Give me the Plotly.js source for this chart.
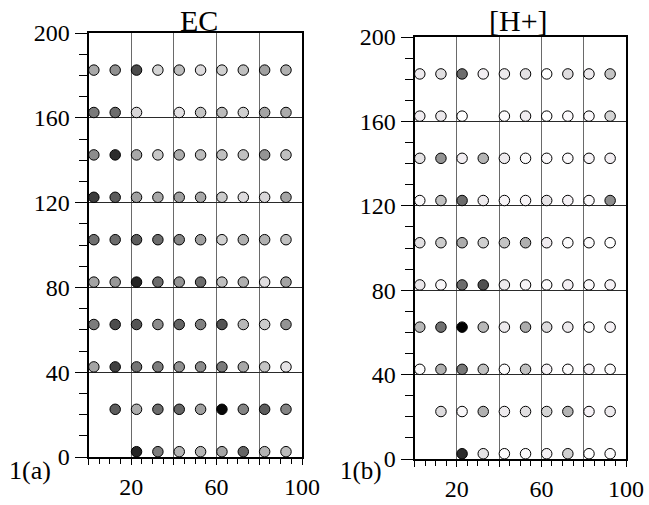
<!DOCTYPE html>
<html>
<head>
<meta charset="utf-8">
<script src="https://cdn.plot.ly/plotly-3.0.1.min.js"></script>
<style>
  html, body { margin: 0; padding: 0; background: #fff; }
  #chart { width: 649px; height: 505px; }
</style>
</head>
<body>
<div id="chart"></div>
<script>
// Column (x) and row (y) positions of the sampling points
const xPositions = [2.5, 12.5, 22.5, 32.5, 42.5, 52.5, 62.5, 72.5, 82.5, 92.5];
const yPositions = [182.5, 162.5, 142.5, 122.5, 102.5, 82.5, 62.5, 42.5, 22.5, 2.5];

// Gray level (0 = black, 255 = white) of each point, rows listed top to bottom; null = no sample
const ecLevels = [
  [168, 144, 75, 212, 188, 220, 208, 192, 160, 176],
  [122, 108, 216, null, 226, 196, 188, 208, 164, 172],
  [140, 44, 168, 200, 172, 188, 192, 192, 148, 192],
  [60, 92, 160, 168, 160, 168, 204, 220, 216, 164],
  [112, 108, 92, 108, 132, 160, 208, 176, 176, 192],
  [164, 152, 36, 108, 148, 108, 192, 176, 224, 164],
  [124, 76, 84, 140, 100, 128, 84, 184, 204, 148],
  [164, 64, 116, 124, 144, 140, 122, 168, 196, 228],
  [null, 92, 172, 108, 100, 160, 8, 132, 92, 132],
  [null, null, 36, 124, 180, 180, 164, 100, 180, 188]
];
const hLevels = [
  [236, 224, 108, 240, 236, 228, 255, 222, 236, 196],
  [238, 234, 255, null, 250, 238, 255, 250, 250, 212],
  [228, 148, 240, 180, 236, 252, 250, 250, 246, 240],
  [248, 192, 108, 236, 246, 246, 230, 244, 250, 140],
  [224, 204, 172, 208, 196, 176, 238, 252, 252, 255],
  [232, 248, 108, 80, 236, 246, 252, 242, 250, 244],
  [184, 112, 0, 184, 236, 172, 220, 236, 252, 244],
  [252, 176, 120, 192, 252, 192, 244, 252, 244, 252],
  [null, 220, 248, 176, 236, 224, 212, 180, 244, 236],
  [null, null, 44, 228, 252, 252, 244, 208, 255, 252]
];

const panelTitles = ['EC', '[H+]'];
const panelLabels = ['1(a)', '1(b)'];
const xTickVals = [0, 20, 40, 60, 80, 100];
const xTickText = ['', '20', '', '60', '', '100'];
const yTickVals = [0, 40, 80, 120, 160, 200];
const yTickText = ['0', '40', '80', '120', '160', '200'];

const grayScale = [[0, 'rgb(0,0,0)'], [0.8, 'rgb(204,204,204)'], [0.95, 'rgb(244,240,244)'], [1, 'rgb(255,255,255)']];

function buildTrace(levels, xa, ya) {
  const x = [], y = [], c = [];
  levels.forEach((row, i) => {
    row.forEach((v, j) => {
      if (v !== null) { x.push(xPositions[j]); y.push(yPositions[i]); c.push(v); }
    });
  });
  return {
    type: 'scatter', mode: 'markers', x: x, y: y, xaxis: xa, yaxis: ya,
    marker: { size: 10.5, color: c, cmin: 0, cmax: 255, colorscale: grayScale, showscale: false,
              line: { color: '#000', width: 1 } },
    hoverinfo: 'x+y', showlegend: false
  };
}

const serif = 'Liberation Serif';
const tickFont = { family: serif, size: 24, color: '#000' };

function xAxis(domain, anchor) {
  return {
    domain: domain, anchor: anchor, range: [0, 100], tickmode: 'array',
    tickvals: xTickVals, ticktext: xTickText, ticks: 'outside', ticklen: 6, tickwidth: 1,
    tickcolor: '#000', showgrid: true, gridcolor: '#6a6a6a', gridwidth: 1, zeroline: false,
    showline: true, linecolor: '#000', linewidth: 2, mirror: true, tickfont: tickFont,
    ticklabelstandoff: 1,
    minor: { tickmode: 'linear', tick0: 0, dtick: 5, ticks: 'outside', ticklen: 5, tickcolor: '#000', showgrid: false },
    fixedrange: true
  };
}
function yAxis(domain, anchor) {
  return {
    domain: domain, anchor: anchor, range: [0, 200], tickmode: 'array',
    tickvals: yTickVals, ticktext: yTickText, ticks: 'outside', ticklen: 12, tickwidth: 1,
    tickcolor: '#000', showgrid: true, gridcolor: '#2a2a2a', gridwidth: 1, zeroline: false,
    showline: true, linecolor: '#000', linewidth: 2, mirror: true, tickfont: tickFont,
    ticklabelstandoff: 0,
    minor: { tickmode: 'linear', tick0: 0, dtick: 10, ticks: 'outside', ticklen: 8, tickcolor: '#000', showgrid: false },
    fixedrange: true
  };
}

const data = [buildTrace(ecLevels, 'x', 'y'), buildTrace(hLevels, 'x2', 'y2')];

const layout = {
  width: 649, height: 505,
  margin: { l: 0, r: 0, t: 0, b: 0, pad: 0 },
  paper_bgcolor: '#fff', plot_bgcolor: '#fff',
  font: { family: serif, color: '#000' },
  xaxis: xAxis([88.5 / 649, 302 / 649], 'y'),
  yaxis: yAxis([48 / 505, 472 / 505], 'x'),
  xaxis2: xAxis([414.5 / 649, 626 / 649], 'y2'),
  yaxis2: yAxis([46 / 505, 468 / 505], 'x2'),
  annotations: [
    { text: panelTitles[0], xref: 'paper', yref: 'paper', x: 199 / 649, y: (505 - 20) / 505,
      xanchor: 'center', yanchor: 'middle', showarrow: false, font: { family: serif, size: 30, color: '#000' } },
    { text: panelTitles[1], xref: 'paper', yref: 'paper', x: 518.5 / 649, y: (505 - 20) / 505,
      xanchor: 'center', yanchor: 'middle', showarrow: false, font: { family: serif, size: 30, color: '#000' } },
    { text: panelLabels[0], xref: 'paper', yref: 'paper', x: 30 / 649, y: (505 - 471) / 505,
      xanchor: 'center', yanchor: 'middle', showarrow: false, font: { family: serif, size: 26, color: '#000' } },
    { text: panelLabels[1], xref: 'paper', yref: 'paper', x: 384 / 649, y: (505 - 471) / 505,
      xanchor: 'right', yanchor: 'middle', showarrow: false, font: { family: serif, size: 25, color: '#000' } }
  ]
};

Plotly.newPlot('chart', data, layout, { staticPlot: true, displayModeBar: false });
</script>
</body>
</html>
